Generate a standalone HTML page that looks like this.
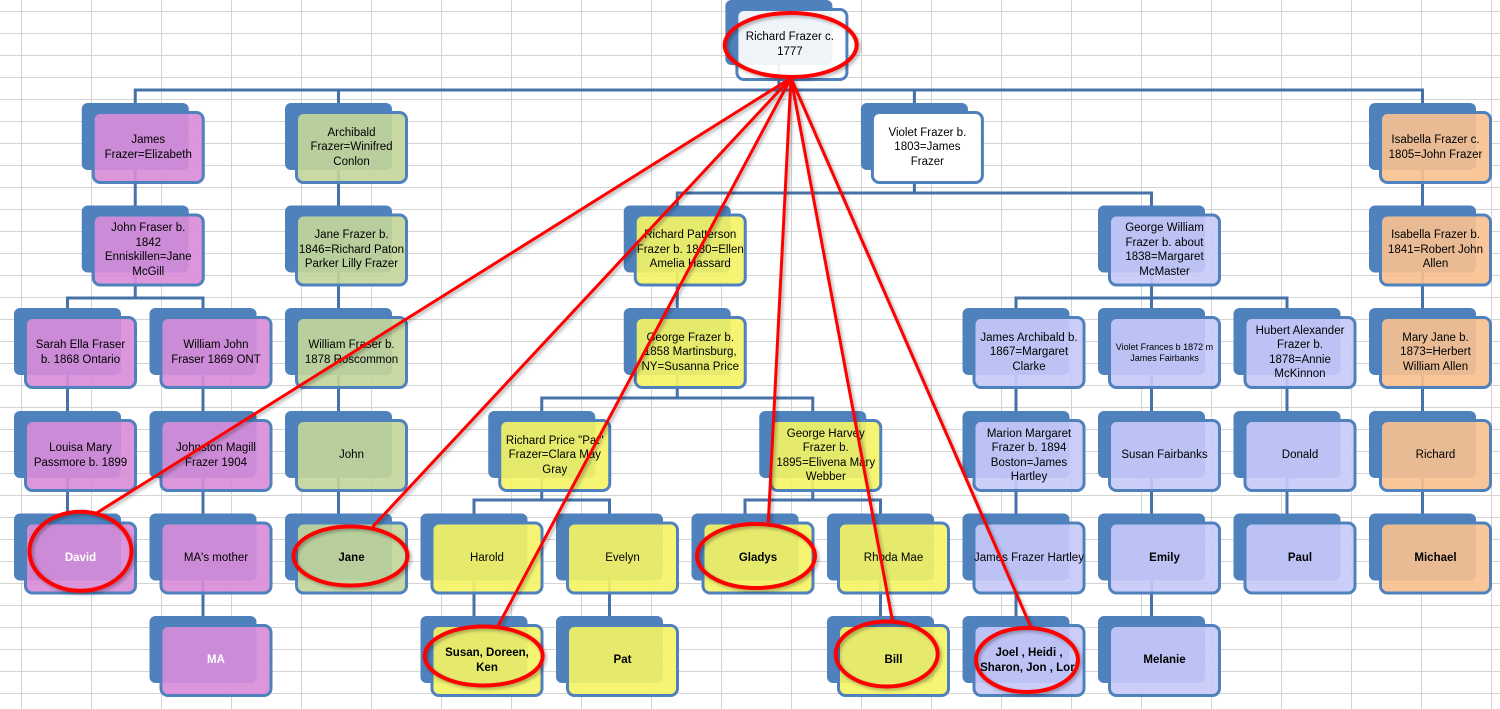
<!DOCTYPE html>
<html>
<head>
<meta charset="utf-8">
<style>
  html,body{margin:0;padding:0;background:#fff;}
  #wrap{position:relative;width:1500px;height:709px;overflow:hidden;background:#fff;}
  svg{position:absolute;left:0;top:0;}
  .t{position:absolute;width:113px;height:73px;display:flex;align-items:center;justify-content:center;text-align:center;
     font-family:"Liberation Sans",sans-serif;font-size:11.5px;line-height:14.5px;color:#000;white-space:nowrap;}
  .b{font-weight:bold;}
  .w{font-weight:bold;color:#fff;}
  .s{font-size:9px;line-height:11px;}
</style>
</head>
<body>
<div id="wrap">
<svg width="1500" height="709" viewBox="0 0 1500 709">
  <g stroke="#d4d4d4" stroke-width="1">
    <path d="M21.5 0V709M91.5 0V709M161.5 0V709M231.5 0V709M301.5 0V709M371.5 0V709M441.5 0V709M511.5 0V709M581.5 0V709M651.5 0V709M721.5 0V709M791.5 0V709M861.5 0V709M931.5 0V709M1001.5 0V709M1071.5 0V709M1141.5 0V709M1211.5 0V709M1281.5 0V709M1351.5 0V709M1421.5 0V709M1491.5 0V709"/>
    <path d="M0 11.5H1500M0 33.5H1500M0 55.5H1500M0 77.5H1500M0 99.5H1500M0 121.5H1500M0 143.5H1500M0 165.5H1500M0 187.5H1500M0 209.5H1500M0 231.5H1500M0 253.5H1500M0 275.5H1500M0 297.5H1500M0 319.5H1500M0 341.5H1500M0 363.5H1500M0 385.5H1500M0 407.5H1500M0 429.5H1500M0 451.5H1500M0 473.5H1500M0 495.5H1500M0 517.5H1500M0 539.5H1500M0 561.5H1500M0 583.5H1500M0 605.5H1500M0 627.5H1500M0 649.5H1500M0 671.5H1500M0 693.5H1500"/>
  </g>
  <g stroke="#4672a8" stroke-width="3" fill="none" stroke-linejoin="miter">
    <path d="M778.9 60V90M135.25 103V90H1422.5V103M338.5 90V103M914.4 90V103"/>
    <path d="M135.25 170V205.5M338.5 170V205.5M914.4 170V193M677.25 205.5V193H1151.5V205.5M1422.5 170V205.5"/>
    <path d="M135.25 272V298M67.5 308V298H203V308M338.5 272V308M677.25 272V308M1151.5 272V298M1016 308V298H1287V308M1151.5 298V308M1422.5 272V308"/>
    <path d="M67.5 375V411M203 375V411M338.5 375V411M677.25 375V398M541.75 411V398H812.75V411M1016 375V411M1151.5 375V411M1287 375V411M1422.5 375V411"/>
    <path d="M67.5 478V513.5M203 478V513.5M338.5 478V513.5M541.75 478V500M474 513.5V500H609.5V513.5M812.75 478V500M745 513.5V500H880.5V513.5M1016 478V513.5M1151.5 478V513.5M1287 478V513.5M1422.5 478V513.5"/>
    <path d="M203 580V616M474 580V616M609.5 580V616M880.5 580V616M1016 580V616M1151.5 580V616"/>
  </g>
  <g fill="#4f81bd">
    <rect x="725.4" y="0" width="107" height="65" rx="6"/>
    <rect x="81.75" y="103" width="107" height="67" rx="6"/>
    <rect x="285" y="103" width="107" height="67" rx="6"/>
    <rect x="860.9" y="103" width="107" height="67" rx="6"/>
    <rect x="1369" y="103" width="107" height="67" rx="6"/>
    <rect x="81.75" y="205.5" width="107" height="67" rx="6"/>
    <rect x="285" y="205.5" width="107" height="67" rx="6"/>
    <rect x="623.75" y="205.5" width="107" height="67" rx="6"/>
    <rect x="1098" y="205.5" width="107" height="67" rx="6"/>
    <rect x="1369" y="205.5" width="107" height="67" rx="6"/>
    <rect x="14" y="308" width="107" height="67" rx="6"/>
    <rect x="149.5" y="308" width="107" height="67" rx="6"/>
    <rect x="285" y="308" width="107" height="67" rx="6"/>
    <rect x="623.75" y="308" width="107" height="67" rx="6"/>
    <rect x="962.5" y="308" width="107" height="67" rx="6"/>
    <rect x="1098" y="308" width="107" height="67" rx="6"/>
    <rect x="1233.5" y="308" width="107" height="67" rx="6"/>
    <rect x="1369" y="308" width="107" height="67" rx="6"/>
    <rect x="14" y="411" width="107" height="67" rx="6"/>
    <rect x="149.5" y="411" width="107" height="67" rx="6"/>
    <rect x="285" y="411" width="107" height="67" rx="6"/>
    <rect x="488.25" y="411" width="107" height="67" rx="6"/>
    <rect x="759.25" y="411" width="107" height="67" rx="6"/>
    <rect x="962.5" y="411" width="107" height="67" rx="6"/>
    <rect x="1098" y="411" width="107" height="67" rx="6"/>
    <rect x="1233.5" y="411" width="107" height="67" rx="6"/>
    <rect x="1369" y="411" width="107" height="67" rx="6"/>
    <rect x="14" y="513.5" width="107" height="67" rx="6"/>
    <rect x="149.5" y="513.5" width="107" height="67" rx="6"/>
    <rect x="285" y="513.5" width="107" height="67" rx="6"/>
    <rect x="420.5" y="513.5" width="107" height="67" rx="6"/>
    <rect x="556" y="513.5" width="107" height="67" rx="6"/>
    <rect x="691.5" y="513.5" width="107" height="67" rx="6"/>
    <rect x="827" y="513.5" width="107" height="67" rx="6"/>
    <rect x="962.5" y="513.5" width="107" height="67" rx="6"/>
    <rect x="1098" y="513.5" width="107" height="67" rx="6"/>
    <rect x="1233.5" y="513.5" width="107" height="67" rx="6"/>
    <rect x="1369" y="513.5" width="107" height="67" rx="6"/>
    <rect x="149.5" y="616" width="107" height="67" rx="6"/>
    <rect x="420.5" y="616" width="107" height="67" rx="6"/>
    <rect x="556" y="616" width="107" height="67" rx="6"/>
    <rect x="827" y="616" width="107" height="67" rx="6"/>
    <rect x="962.5" y="616" width="107" height="67" rx="6"/>
    <rect x="1098" y="616" width="107" height="67" rx="6"/>
  </g>
  <g stroke="#4f81bd" stroke-width="3">
    <rect x="736.9" y="9.5" width="110" height="70" rx="7" fill="rgba(255,255,255,0.91)"/>
    <rect x="93.25" y="112.5" width="110" height="70" rx="7" fill="rgba(216,140,216,0.91)"/>
    <rect x="296.5" y="112.5" width="110" height="70" rx="7" fill="rgba(196,213,154,0.91)"/>
    <rect x="872.4" y="112.5" width="110" height="70" rx="7" fill="#ffffff"/>
    <rect x="1380.5" y="112.5" width="110" height="70" rx="7" fill="rgba(248,192,144,0.91)"/>
    <rect x="93.25" y="215" width="110" height="70" rx="7" fill="rgba(216,140,216,0.91)"/>
    <rect x="296.5" y="215" width="110" height="70" rx="7" fill="rgba(196,213,154,0.91)"/>
    <rect x="635.25" y="215" width="110" height="70" rx="7" fill="rgba(244,244,101,0.91)"/>
    <rect x="1109.5" y="215" width="110" height="70" rx="7" fill="rgba(199,201,249,0.91)"/>
    <rect x="1380.5" y="215" width="110" height="70" rx="7" fill="rgba(248,192,144,0.91)"/>
    <rect x="25.5" y="317.5" width="110" height="70" rx="7" fill="rgba(216,140,216,0.91)"/>
    <rect x="161" y="317.5" width="110" height="70" rx="7" fill="rgba(216,140,216,0.91)"/>
    <rect x="296.5" y="317.5" width="110" height="70" rx="7" fill="rgba(196,213,154,0.91)"/>
    <rect x="635.25" y="317.5" width="110" height="70" rx="7" fill="rgba(244,244,101,0.91)"/>
    <rect x="974" y="317.5" width="110" height="70" rx="7" fill="rgba(199,201,249,0.91)"/>
    <rect x="1109.5" y="317.5" width="110" height="70" rx="7" fill="rgba(199,201,249,0.91)"/>
    <rect x="1245" y="317.5" width="110" height="70" rx="7" fill="rgba(199,201,249,0.91)"/>
    <rect x="1380.5" y="317.5" width="110" height="70" rx="7" fill="rgba(248,192,144,0.91)"/>
    <rect x="25.5" y="420.5" width="110" height="70" rx="7" fill="rgba(216,140,216,0.91)"/>
    <rect x="161" y="420.5" width="110" height="70" rx="7" fill="rgba(216,140,216,0.91)"/>
    <rect x="296.5" y="420.5" width="110" height="70" rx="7" fill="rgba(196,213,154,0.91)"/>
    <rect x="499.75" y="420.5" width="110" height="70" rx="7" fill="rgba(244,244,101,0.91)"/>
    <rect x="770.75" y="420.5" width="110" height="70" rx="7" fill="rgba(244,244,101,0.91)"/>
    <rect x="974" y="420.5" width="110" height="70" rx="7" fill="rgba(199,201,249,0.91)"/>
    <rect x="1109.5" y="420.5" width="110" height="70" rx="7" fill="rgba(199,201,249,0.91)"/>
    <rect x="1245" y="420.5" width="110" height="70" rx="7" fill="rgba(199,201,249,0.91)"/>
    <rect x="1380.5" y="420.5" width="110" height="70" rx="7" fill="rgba(248,192,144,0.91)"/>
    <rect x="25.5" y="523" width="110" height="70" rx="7" fill="rgba(216,140,216,0.91)"/>
    <rect x="161" y="523" width="110" height="70" rx="7" fill="rgba(216,140,216,0.91)"/>
    <rect x="296.5" y="523" width="110" height="70" rx="7" fill="rgba(196,213,154,0.91)"/>
    <rect x="432" y="523" width="110" height="70" rx="7" fill="rgba(244,244,101,0.91)"/>
    <rect x="567.5" y="523" width="110" height="70" rx="7" fill="rgba(244,244,101,0.91)"/>
    <rect x="703" y="523" width="110" height="70" rx="7" fill="rgba(244,244,101,0.91)"/>
    <rect x="838.5" y="523" width="110" height="70" rx="7" fill="rgba(244,244,101,0.91)"/>
    <rect x="974" y="523" width="110" height="70" rx="7" fill="rgba(199,201,249,0.91)"/>
    <rect x="1109.5" y="523" width="110" height="70" rx="7" fill="rgba(199,201,249,0.91)"/>
    <rect x="1245" y="523" width="110" height="70" rx="7" fill="rgba(199,201,249,0.91)"/>
    <rect x="1380.5" y="523" width="110" height="70" rx="7" fill="rgba(248,192,144,0.91)"/>
    <rect x="161" y="625.5" width="110" height="70" rx="7" fill="rgba(216,140,216,0.91)"/>
    <rect x="432" y="625.5" width="110" height="70" rx="7" fill="rgba(244,244,101,0.91)"/>
    <rect x="567.5" y="625.5" width="110" height="70" rx="7" fill="rgba(244,244,101,0.91)"/>
    <rect x="838.5" y="625.5" width="110" height="70" rx="7" fill="rgba(244,244,101,0.91)"/>
    <rect x="974" y="625.5" width="110" height="70" rx="7" fill="rgba(199,201,249,0.91)"/>
    <rect x="1109.5" y="625.5" width="110" height="70" rx="7" fill="rgba(199,201,249,0.91)"/>
  </g>
</svg>

<div class="t" style="left:733.4px;top:8px;">Richard Frazer c.<br>1777</div>
<div class="t" style="left:91.75px;top:111px;">James<br>Frazer=Elizabeth</div>
<div class="t" style="left:295px;top:111px;">Archibald<br>Frazer=Winifred<br>Conlon</div>
<div class="t" style="left:870.9px;top:111px;">Violet Frazer b.<br>1803=James<br>Frazer</div>
<div class="t" style="left:1379px;top:111px;">Isabella Frazer c.<br>1805=John Frazer</div>
<div class="t" style="left:91.75px;top:213.5px;">John Fraser b.<br>1842<br>Enniskillen=Jane<br>McGill</div>
<div class="t" style="left:295px;top:213.5px;">Jane Frazer b.<br>1846=Richard Paton<br>Parker Lilly Frazer</div>
<div class="t" style="left:633.75px;top:213.5px;">Richard Patterson<br>Frazer b. 1830=Ellen<br>Amelia Hassard</div>
<div class="t" style="left:1108px;top:213.5px;">George William<br>Frazer b. about<br>1838=Margaret<br>McMaster</div>
<div class="t" style="left:1379px;top:213.5px;">Isabella Frazer b.<br>1841=Robert John<br>Allen</div>
<div class="t" style="left:24px;top:316px;">Sarah Ella Fraser<br>b. 1868 Ontario</div>
<div class="t" style="left:159.5px;top:316px;">William John<br>Fraser 1869 ONT</div>
<div class="t" style="left:295px;top:316px;">William Fraser b.<br>1878 Roscommon</div>
<div class="t" style="left:633.75px;top:316px;">George Frazer b.<br>1858 Martinsburg,<br>NY=Susanna Price</div>
<div class="t" style="left:972.5px;top:316px;">James Archibald b.<br>1867=Margaret<br>Clarke</div>
<div class="t s" style="left:1108px;top:316px;">Violet Frances b 1872 m<br>James Fairbanks</div>
<div class="t" style="left:1243.5px;top:316px;">Hubert Alexander<br>Frazer b.<br>1878=Annie<br>McKinnon</div>
<div class="t" style="left:1379px;top:316px;">Mary Jane b.<br>1873=Herbert<br>William Allen</div>
<div class="t" style="left:24px;top:419px;">Louisa Mary<br>Passmore b. 1899</div>
<div class="t" style="left:159.5px;top:419px;">Johnston Magill<br>Frazer 1904</div>
<div class="t" style="left:295px;top:419px;">John</div>
<div class="t" style="left:498.25px;top:419px;">Richard Price "Pat"<br>Frazer=Clara May<br>Gray</div>
<div class="t" style="left:769.25px;top:419px;">George Harvey<br>Frazer b.<br>1895=Elivena Mary<br>Webber</div>
<div class="t" style="left:972.5px;top:419px;">Marion Margaret<br>Frazer b. 1894<br>Boston=James<br>Hartley</div>
<div class="t" style="left:1108px;top:419px;">Susan Fairbanks</div>
<div class="t" style="left:1243.5px;top:419px;">Donald</div>
<div class="t" style="left:1379px;top:419px;">Richard</div>
<div class="t w" style="left:24px;top:521.5px;">David</div>
<div class="t" style="left:159.5px;top:521.5px;">MA's mother</div>
<div class="t b" style="left:295px;top:521.5px;">Jane</div>
<div class="t" style="left:430.5px;top:521.5px;">Harold</div>
<div class="t" style="left:566px;top:521.5px;">Evelyn</div>
<div class="t b" style="left:701.5px;top:521.5px;">Gladys</div>
<div class="t" style="left:837px;top:521.5px;">Rhoda Mae</div>
<div class="t" style="left:972.5px;top:521.5px;">James Frazer Hartley</div>
<div class="t b" style="left:1108px;top:521.5px;">Emily</div>
<div class="t b" style="left:1243.5px;top:521.5px;">Paul</div>
<div class="t b" style="left:1379px;top:521.5px;">Michael</div>
<div class="t w" style="left:159.5px;top:624px;">MA</div>
<div class="t b" style="left:430.5px;top:624px;">Susan, Doreen,<br>Ken</div>
<div class="t b" style="left:566px;top:624px;">Pat</div>
<div class="t b" style="left:837px;top:624px;">Bill</div>
<div class="t b" style="left:972.5px;top:624px;">Joel , Heidi ,<br>Sharon, Jon , Lori</div>
<div class="t b" style="left:1108px;top:624px;">Melanie</div>

<svg width="1500" height="709" viewBox="0 0 1500 709">
  <defs>
    <filter id="sh" x="-20%" y="-20%" width="140%" height="140%">
      <feDropShadow dx="2" dy="2" stdDeviation="1.5" flood-color="#000" flood-opacity="0.3"/>
    </filter>
  </defs>
  <g stroke="#ff0000" fill="none" filter="url(#sh)">
    <g stroke-width="3">
      <path d="M791 78L95 514"/>
      <path d="M791 78L372.7 526.7"/>
      <path d="M791 78L497.3 627.3"/>
      <path d="M791 78L768.3 522.3"/>
      <path d="M791 78L892.3 620"/>
      <path d="M791 78L1031 627.3"/>
    </g>
    <g stroke-width="4">
      <ellipse cx="790.7" cy="45" rx="66" ry="32"/>
      <ellipse cx="80.5" cy="551.3" rx="51" ry="39.5"/>
      <ellipse cx="350.5" cy="556" rx="57" ry="29.5"/>
      <ellipse cx="483.7" cy="656" rx="59" ry="29.5"/>
      <ellipse cx="756" cy="556" rx="59" ry="32"/>
      <ellipse cx="886.7" cy="654" rx="51" ry="32.5"/>
      <ellipse cx="1027" cy="660" rx="51" ry="32"/>
    </g>
  </g>
</svg>
</div>
</body>
</html>
